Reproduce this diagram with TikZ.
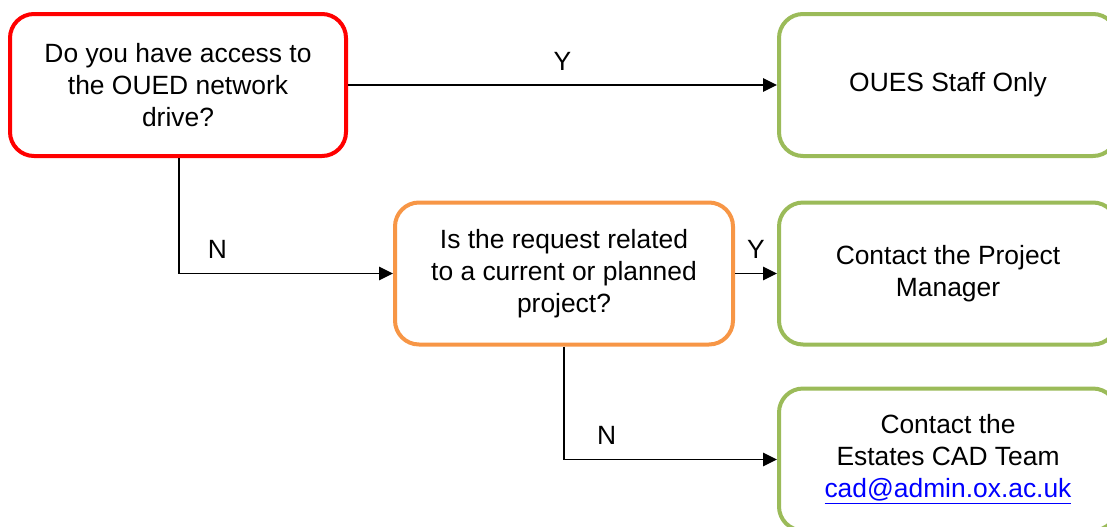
\documentclass[tikz,border=0pt]{standalone}
\usepackage{fontspec}
\setmainfont{Liberation Sans}
\usepackage{xcolor}
\usetikzlibrary{positioning,arrows.meta}
\definecolor{qred}{RGB}{255,0,0}
\definecolor{qorange}{RGB}{247,150,70}
\definecolor{qgreen}{RGB}{155,187,89}
\definecolor{qlink}{RGB}{0,0,255}

\begin{document}
\begin{tikzpicture}[
  x=0.75pt, y=-0.75pt, font=\fontsize{19.8}{24}\selectfont,
  qbox/.style={draw, line width=3pt, rounded corners=18pt, align=center,
               fill=white, inner sep=2pt, minimum width=253.5pt, minimum height=106.5pt},
  qask/.style={qbox, draw=qred, minimum width=252pt},
  qmid/.style={qbox, draw=qorange},
  qend/.style={qbox, draw=qgreen},
  qarr/.style={-{Triangle[length=10.5pt,width=10pt]}, line width=1.2pt, draw=black},
  qlab/.style={inner sep=0pt, above=10.5pt},
]
  \clip (0,0) rectangle (1107,526);
  \useasboundingbox (0,0) rectangle (1107,526);
  % 1. first question
  \node[qask] (access) at (178,85)
    {Do you have access to\\the OUED network\\drive?};
  % 2. second question
  \node[qmid] (project) at (564,273.5)
    {Is the request related\\to a current or planned\\project?};
  % 3. outcomes
  \node[qend] (staff) at (948,85) {OUES Staff Only};
  \node[qend] (manager) at (948,273.5) {Contact the Project\\Manager};
  \node[qend] (cadteam) at (948,459.5)
    {Contact the\\Estates CAD Team\\{\color{qlink}\underline{cad@admin.ox.ac.uk}}};
  % arrows
  \draw[qarr] (access.east) -- node[qlab] {Y} (staff.west);
  \draw[qarr] (access.south -| 179,0) |- node[qlab, pos=0.59] {N} (project.west);
  \draw[qarr] (project.east) -- node[qlab] {Y} (manager.west);
  \draw[qarr] (project.south) |- node[qlab, pos=0.6] {N} (cadteam.west);
\end{tikzpicture}
\end{document}
